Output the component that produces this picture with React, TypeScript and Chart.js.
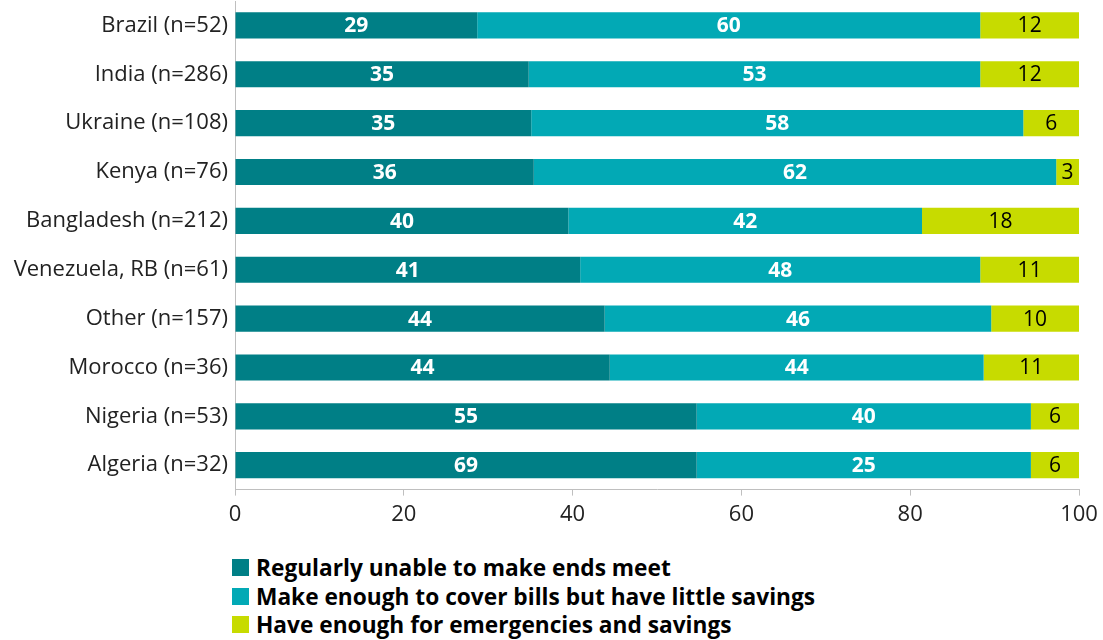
import React, { useEffect, useRef } from "react";
import { Chart, registerables } from "chart.js";

Chart.register(...registerables);

const categories = [
  "Brazil (n=52)",
  "India (n=286)",
  "Ukraine (n=108)",
  "Kenya (n=76)",
  "Bangladesh (n=212)",
  "Venezuela, RB (n=61)",
  "Other (n=157)",
  "Morocco (n=36)",
  "Nigeria (n=53)",
  "Algeria (n=32)",
];

// Bar lengths as drawn in the picture
const unableBars = [28.7, 34.8, 35.1, 35.4, 39.5, 40.9, 43.8, 44.4, 54.7, 54.7];
const coverBars = [59.6, 53.5, 58.3, 61.9, 41.9, 47.4, 45.8, 44.3, 39.6, 39.6];
const enoughBars = [11.7, 11.7, 6.6, 2.7, 18.6, 11.7, 10.4, 11.3, 5.7, 5.7];

// Value labels as printed on the bars
const unableLabels = ["29", "35", "35", "36", "40", "41", "44", "44", "55", "69"];
const coverLabels = ["60", "53", "58", "62", "42", "48", "46", "44", "40", "25"];
const enoughLabels = ["12", "12", "6", "3", "18", "11", "10", "11", "6", "6"];

const seriesNames = [
  "Regularly unable to make ends meet",
  "Make enough to cover bills but have little savings",
  "Have enough for emergencies and savings",
];

const xTicks = [0, 20, 40, 60, 80, 100];

const colors = ["#007F86", "#02A9B5", "#C7DB00"];
const FONT = "'Open Sans', 'Noto Sans', sans-serif";

const labelSets = [unableLabels, coverLabels, enoughLabels];

const barLabelPlugin = {
  id: "barLabels",
  afterDatasetsDraw(chart: any) {
    const ctx = chart.ctx;
    ctx.save();
    ctx.textAlign = "center";
    ctx.textBaseline = "middle";
    chart.data.datasets.forEach((ds: any, i: number) => {
      const meta = chart.getDatasetMeta(i);
      const labels = labelSets[i];
      meta.data.forEach((bar: any, j: number) => {
        const p = bar.getProps(["x", "y", "base"], true);
        const cx = (p.x + p.base) / 2;
        if (i < 2) {
          ctx.fillStyle = "#FFFFFF";
          ctx.font = `bold 21px ${FONT}`;
        } else {
          ctx.fillStyle = "#000000";
          ctx.font = `21px ${FONT}`;
        }
        ctx.fillText(labels[j], cx, p.y + 1);
      });
    });
    ctx.restore();
  },
};

export default function App() {
  const canvasRef = useRef<HTMLCanvasElement>(null);

  useEffect(() => {
    if (!canvasRef.current) return;
    const chart = new Chart(canvasRef.current, {
      type: "bar",
      data: {
        labels: categories,
        datasets: [unableBars, coverBars, enoughBars].map((d, i) => ({
          label: seriesNames[i],
          data: d,
          backgroundColor: colors[i],
          borderWidth: 0,
          barPercentage: 0.535,
          categoryPercentage: 1,
        })),
      },
      options: {
        indexAxis: "y",
        animation: false,
        responsive: false,
        maintainAspectRatio: false,
        layout: { padding: { top: 1, right: 24, bottom: 0, left: 0 } },
        plugins: {
          legend: { display: false },
          tooltip: { enabled: false },
        },
        scales: {
          x: {
            stacked: true,
            min: 0,
            max: 100,
            afterBuildTicks: (scale: any) => {
              scale.ticks = xTicks.map((v) => ({ value: v }));
            },
            afterFit: (scale: any) => {
              scale.paddingLeft = 0;
              scale.paddingRight = 0;
            },
            grid: {
              drawOnChartArea: false,
              drawTicks: true,
              tickLength: 6,
              color: "#BFBFBF",
            },
            border: { display: true, color: "#BFBFBF", width: 1 },
            ticks: {
              padding: 6,
              color: "#222222",
              font: { family: FONT, size: 22 },
            },
          },
          y: {
            stacked: true,
            afterFit: (scale: any) => {
              scale.width = 235;
              scale.paddingTop = 0;
              scale.paddingBottom = 0;
            },
            grid: { display: false, drawTicks: false },
            border: { display: true, color: "#BFBFBF", width: 1 },
            ticks: {
              padding: 7,
              color: "#222222",
              font: { family: FONT, size: 22 },
            },
          },
        },
      },
      plugins: [barLabelPlugin],
    });
    return () => chart.destroy();
  }, []);

  return (
    <div style={{ position: "absolute", left: 0, top: 0, width: 1103, height: 640, background: "#fff" }}>
      <canvas ref={canvasRef} width={1103} height={534} style={{ display: "block" }} />
      <div style={{ position: "absolute", left: 232, top: 553 }}>
        {seriesNames.map((name, i) => (
          <div
            key={name}
            style={{
              display: "flex",
              alignItems: "center",
              height: 28.7,
              fontFamily: FONT,
              fontWeight: "bold",
              fontSize: 22.7,
              color: "#000",
              whiteSpace: "nowrap",
            }}
          >
            <span style={{ display: "inline-block", width: 17, height: 17, background: colors[i], marginRight: 7, flexShrink: 0 }} />
            <span>{name}</span>
          </div>
        ))}
      </div>
    </div>
  );
}
